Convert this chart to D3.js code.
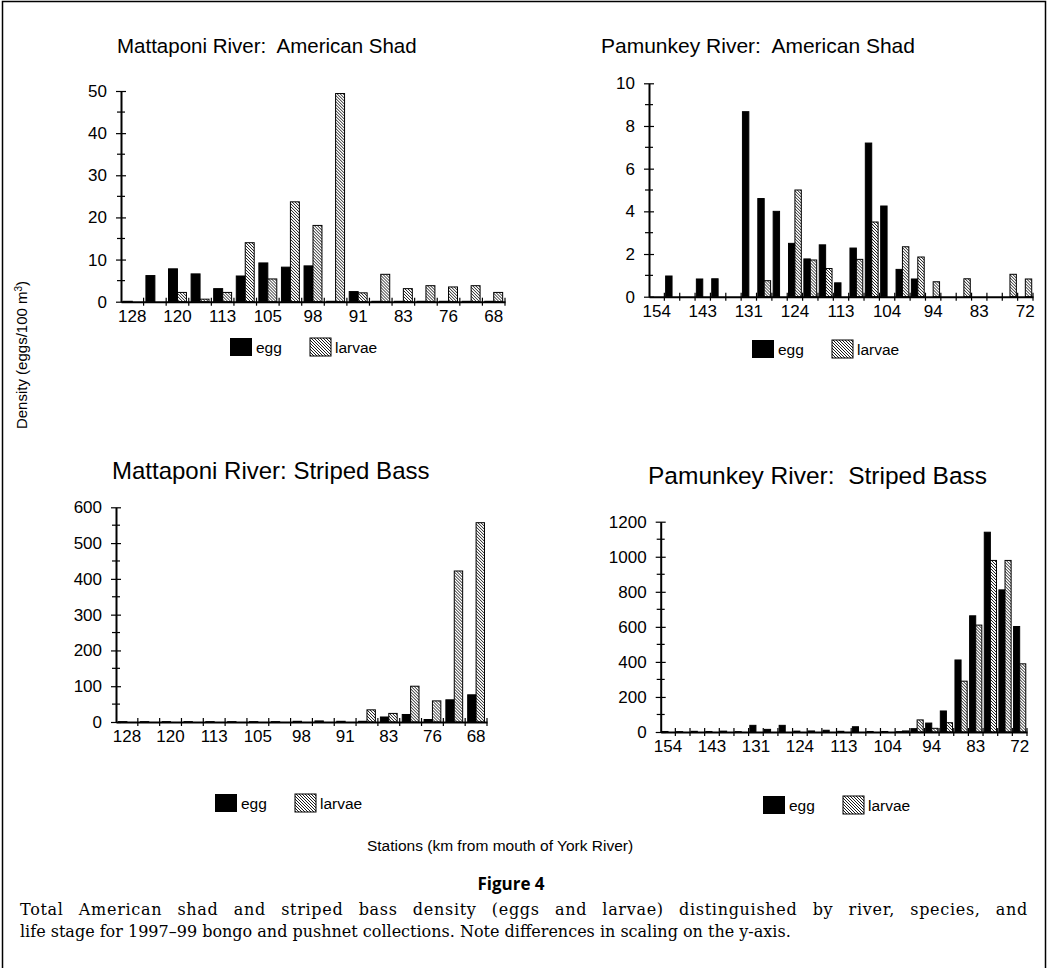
<!DOCTYPE html>
<html>
<head>
<meta charset="utf-8">
<script src="https://cdn.jsdelivr.net/npm/d3@7"></script>
<style>
  body { margin: 0; background: #fff; }
  svg { display: block; }
  .tick text { font-family: "Liberation Sans", Arial, sans-serif; }
</style>
</head>
<body>
<div id="chart"></div>
<script>
// stations (km from mouth of York River)
var matStations = [128, 124, 120, 117, 113, 109, 105, 102, 98, 95, 91, 87, 83, 80, 76, 72, 68]
var pamStations = [154, 150, 146, 143, 139, 135, 131, 129, 126, 124, 120, 117, 113, 110, 107, 104, 101, 97, 94, 90, 87, 83, 79, 76, 72]

// American shad, eggs/100 m3
var matShadEgg    = [0.1, 6.2, 7.8, 6.6, 3.1, 6.1, 9.2, 8.2, 8.5, 0.1, 2.4, 0.1, 0.1, 0.1, 0.1, 0.1, 0.1]
var matShadLarvae = [0, 0, 2.2, 0.6, 2.2, 14.0, 5.4, 23.7, 18.1, 49.4, 2.1, 6.5, 3.1, 3.8, 3.5, 3.8, 2.2]
var pamShadEgg    = [0, 0.97, 0, 0.83, 0.84, 0, 8.67, 4.6, 4.0, 2.5, 1.77, 2.43, 0.65, 2.28, 7.2, 4.25, 1.28, 0.83, 0, 0, 0, 0, 0, 0, 0]
var pamShadLarvae = [0, 0, 0, 0, 0, 0, 0, 0.75, 0, 5.0, 1.72, 1.32, 0, 1.75, 3.5, 0, 2.34, 1.86, 0.7, 0, 0.84, 0, 0, 1.05, 0.83]

// striped bass, eggs/100 m3
var matBassEgg    = [1, 1, 1, 1, 1, 1, 1, 1, 2, 3, 2, 2, 14, 21, 7, 62, 76]
var matBassLarvae = [0, 0, 0, 0, 0, 0, 0, 0, 0, 0, 0, 34, 24, 100, 59, 422, 557]
var pamBassEgg    = [3, 2, 4, 3, 5, 2, 38, 15, 38, 5, 6, 10, 4, 30, 3, 3, 2, 19, 51, 120, 411, 663, 1140, 811, 602]
var pamBassLarvae = [0, 0, 0, 0, 0, 0, 0, 0, 0, 0, 0, 0, 0, 0, 0, 0, 6, 69, 21, 53, 290, 610, 979, 979, 389]

// y-axis ticks per panel
var matShadTicks = [0, 10, 20, 30, 40, 50]
var pamShadTicks = [0, 2, 4, 6, 8, 10]
var matBassTicks = [0, 100, 200, 300, 400, 500, 600]
var pamBassTicks = [0, 200, 400, 600, 800, 1000, 1200]

var W = 1048, H = 968
var sans = '"Liberation Sans", Arial, Helvetica, sans-serif'

var svg = d3.select("#chart").append("svg")
    .attr("width", W)
    .attr("height", H)

// hatch used for larvae
var defs = svg.append("defs")
var pat = defs.append("pattern")
    .attr("id", "hatch")
    .attr("patternUnits", "userSpaceOnUse")
    .attr("width", 3)
    .attr("height", 3)
pat.append("rect").attr("width", 3).attr("height", 3).attr("fill", "#fff")
pat.append("path")
    .attr("d", "M0,0L3,3M-1,2L1,4M2,-1L4,1")
    .attr("stroke", "#000")
    .attr("stroke-width", 0.9)

// frame
svg.append("path")
    .attr("d", "M2.5," + H + "V1.5H1045.5V" + H)
    .attr("fill", "none")
    .attr("stroke", "#000")
    .attr("stroke-width", 1.5)

var panels = [
    {title: "Mattaponi River:  American Shad", tx: 117, ty: 53, tsize: 20.5,
     stations: matStations, egg: matShadEgg, larvae: matShadLarvae, ticks: matShadTicks,
     x0: 121, x1: 505, y0: 301.7, y1: 91, every: 2, barPad: 0.26, lx: 230, ly: 338},
    {title: "Pamunkey River:  American Shad", tx: 601, ty: 53, tsize: 21,
     stations: pamStations, egg: pamShadEgg, larvae: pamShadLarvae, ticks: pamShadTicks,
     x0: 649, x1: 1033, y0: 296.7, y1: 83.3, every: 3, barPad: 0.2, lx: 752, ly: 340},
    {title: "Mattaponi River: Striped Bass", tx: 112, ty: 479, tsize: 24,
     stations: matStations, egg: matBassEgg, larvae: matBassLarvae, ticks: matBassTicks,
     x0: 116, x1: 487, y0: 722, y1: 507.3, every: 2, barPad: 0.3, lx: 215, ly: 794},
    {title: "Pamunkey River:  Striped Bass", tx: 648, ty: 484, tsize: 24.5,
     stations: pamStations, egg: pamBassEgg, larvae: pamBassLarvae, ticks: pamBassTicks,
     x0: 660.7, x1: 1027, y0: 732, y1: 521.7, every: 3, barPad: 0.2, lx: 763, ly: 796}
]

panels.forEach(function (p) {
    var g = svg.append("g")
    var rows = p.stations.map(function (s, i) {
        return {station: s, egg: p.egg[i], larvae: p.larvae[i]}
    })

    var x = d3.scaleBand().domain(p.stations).range([p.x0, p.x1]).padding(0)
    var sub = d3.scaleBand().domain(["egg", "larvae"]).range([0, x.bandwidth()])
        .paddingOuter(p.barPad).paddingInner(0)
    var yMax = p.ticks[p.ticks.length - 1]
    var y = d3.scaleLinear().domain([0, yMax]).range([p.y0, p.y1])

    g.append("text")
        .attr("x", p.tx).attr("y", p.ty)
        .attr("font-family", sans).attr("font-size", p.tsize)
        .style("white-space", "pre")
        .text(p.title)

    // bars
    var grp = g.selectAll("g.st").data(rows).enter().append("g")
        .attr("transform", function (d) { return "translate(" + x(d.station) + ",0)" })
    grp.selectAll("rect").data(function (d) {
            return [{k: "egg", v: d.egg}, {k: "larvae", v: d.larvae}]
        })
        .enter().append("rect")
        .attr("x", function (d) { return sub(d.k) })
        .attr("width", sub.bandwidth())
        .attr("y", function (d) { return y(d.v) })
        .attr("height", function (d) { return y(0) - y(d.v) })
        .attr("fill", function (d) { return d.k == "egg" ? "#000" : "url(#hatch)" })
        .attr("stroke", "#000")
        .attr("stroke-width", 1)

    // y axis: major ticks crossing the line, minor ticks between
    var step = p.ticks[1] - p.ticks[0]
    var minor = d3.range(step / 2, yMax, step)
    var ya = g.append("g").attr("transform", "translate(" + p.x0 + ",0)")
        .call(d3.axisLeft(y).tickValues(p.ticks).tickFormat(d3.format("d"))
            .tickSize(5).tickPadding(9).tickSizeOuter(0))
    ya.select(".domain").attr("stroke-width", 2)
    ya.selectAll(".tick line").attr("x1", 5).attr("stroke-width", 1.2)
    ya.selectAll(".tick text").attr("font-size", 17).attr("fill", "#000")
    ya.selectAll(".minor").data(minor).enter().append("line")
        .attr("x1", -4).attr("x2", 4)
        .attr("y1", function (d) { return y(d) }).attr("y2", function (d) { return y(d) })
        .attr("stroke", "#000").attr("stroke-width", 1.2)

    // x axis: labels every n stations, ticks at station boundaries
    var xa = g.append("g").attr("transform", "translate(0," + p.y0 + ")")
        .call(d3.axisBottom(x)
            .tickValues(p.stations.filter(function (s, i) { return i % p.every == 0 }))
            .tickSize(0).tickPadding(8))
    xa.select(".domain").attr("stroke-width", 2)
    xa.selectAll(".tick text").attr("font-size", 17).attr("fill", "#000")
    var edges = p.stations.map(function (s) { return x(s) }).concat([p.x1])
    xa.selectAll(".edge").data(edges.slice(1)).enter().append("line")
        .attr("x1", function (d) { return d }).attr("x2", function (d) { return d })
        .attr("y1", -4).attr("y2", 4)
        .attr("stroke", "#000").attr("stroke-width", 1.2)

    // legend
    var lg = g.append("g").attr("transform", "translate(" + p.lx + "," + p.ly + ")")
    lg.append("rect").attr("width", 22).attr("height", 18).attr("fill", "#000")
    lg.append("text").attr("x", 26).attr("y", 14.5)
        .attr("font-family", sans).attr("font-size", 15.5).text("egg")
    lg.append("rect").attr("x", 80).attr("width", 21).attr("height", 18)
        .attr("fill", "url(#hatch)").attr("stroke", "#000").attr("stroke-width", 1)
    lg.append("text").attr("x", 105).attr("y", 14.5)
        .attr("font-family", sans).attr("font-size", 15.5).text("larvae")
})

// shared axis titles
var yl = svg.append("text")
    .attr("transform", "translate(27,355) rotate(-90)")
    .attr("text-anchor", "middle")
    .attr("font-family", sans).attr("font-size", 15)
yl.append("tspan").text("Density (eggs/100 m")
yl.append("tspan").attr("dy", -5).attr("font-size", 10).text("3")
yl.append("tspan").attr("dy", 5).text(")")

svg.append("text")
    .attr("x", 500).attr("y", 851)
    .attr("text-anchor", "middle")
    .attr("font-family", sans).attr("font-size", 15.5)
    .text("Stations (km from mouth of York River)")

// caption
svg.append("text")
    .attr("x", 511).attr("y", 890)
    .attr("text-anchor", "middle")
    .attr("font-family", '"Open Sans", "Liberation Sans", sans-serif')
    .attr("font-weight", "bold").attr("font-size", 17)
    .text("Figure 4")

var serif = '"DejaVu Serif", "Liberation Serif", serif'
var cap1 = svg.append("text")
    .attr("x", 20).attr("y", 915)
    .attr("font-family", serif).attr("font-size", 16)
    .attr("letter-spacing", 0.7)
    .text("Total American shad and striped bass density (eggs and larvae) distinguished by river, species, and")
// justify the first line: rest of the gap goes into the word spaces
var gaps = cap1.text().split(" ").length - 1
var natural = cap1.node().getComputedTextLength()
if (natural < 1008) cap1.attr("word-spacing", (1008 - natural) / gaps)
svg.append("text")
    .attr("x", 20).attr("y", 937)
    .attr("font-family", serif).attr("font-size", 16)
    .text("life stage for 1997\u201399 bongo and pushnet collections. Note differences in scaling on the y-axis.")
</script>
</body>
</html>
